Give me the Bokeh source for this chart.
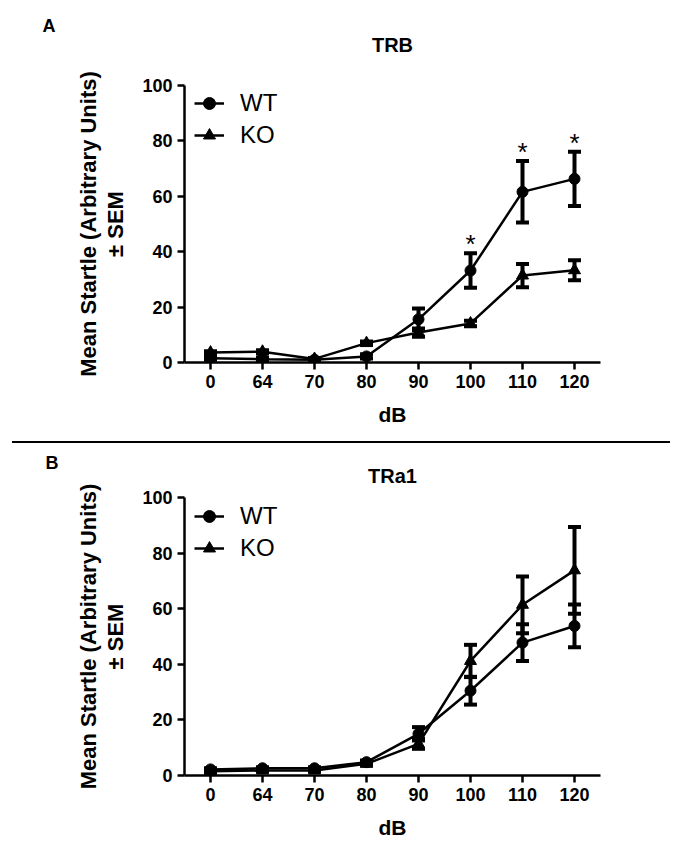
from bokeh.plotting import figure
from bokeh.models import (ColumnDataSource, Whisker, TeeHead, Legend, LegendItem,
                          FixedTicker, Range1d, Div, Title, LinearAxis)
from bokeh.layouts import column
from bokeh.core.properties import value
from bokeh.embed import file_html
from bokeh.resources import INLINE

# ---------------- data ----------------
categories = ["0", "64", "70", "80", "90", "100", "110", "120"]
y_ticks = [0, 20, 40, 60, 80, 100]

trb_wt_mean = [1.5, 1.2, 1.0, 2.2, 15.6, 33.2, 61.6, 66.3]
trb_wt_sem = [0.5, 0.5, 0.4, 0.8, 3.9, 6.2, 11.1, 9.8]
trb_ko_mean = [3.6, 3.9, 1.3, 7.0, 10.8, 14.1, 31.4, 33.3]
trb_ko_sem = [0.5, 0.5, 0.3, 0.6, 1.5, 1.0, 4.2, 3.6]
trb_stars = ["100", "110", "120"]

tra1_wt_mean = [2.2, 2.6, 2.6, 4.8, 15.0, 30.5, 47.8, 53.8]
tra1_wt_sem = [0.4, 0.4, 0.4, 0.6, 2.4, 5.0, 6.6, 7.7]
tra1_ko_mean = [1.5, 1.8, 1.8, 4.2, 11.4, 41.2, 61.4, 73.8]
tra1_ko_sem = [0.3, 0.3, 0.3, 0.6, 1.8, 5.8, 10.2, 15.6]
tra1_stars = []

FONT = "Liberation Sans"


def make_panel(letter, title, wt_mean, wt_sem, ko_mean, ko_sem, stars,
               height, top_border, frame_h, title_standoff, letter_standoff, letter_offset):
    n = len(categories)
    xs = list(range(n))
    p = figure(width=678, height=height, output_backend="svg", toolbar_location=None,
               title=None,
               x_range=Range1d(-0.5, n - 0.5), y_range=Range1d(0, 100),
               min_border_left=184, min_border_right=78, min_border_top=top_border,
               min_border_bottom=height - top_border - frame_h)
    p.outline_line_color = None
    p.grid.visible = False
    p.background_fill_color = "white"
    p.border_fill_color = "white"

    for ax in (p.xaxis[0], p.yaxis[0]):
        ax.axis_line_width = 2.5
        ax.axis_line_color = "black"
        ax.major_tick_line_width = 2.5
        ax.major_tick_line_color = "black"
        ax.major_tick_out = 7
        ax.major_tick_in = 0
        ax.minor_tick_line_color = None
        ax.major_label_text_font = FONT
        ax.major_label_text_font_style = "bold"
        ax.major_label_text_font_size = "18px"
        ax.major_label_text_color = "black"
        ax.major_label_standoff = 5
        ax.axis_label_text_font = FONT
        ax.axis_label_text_font_style = "bold"
        ax.axis_label_text_color = "black"
    p.xaxis[0].ticker = FixedTicker(ticks=xs)
    p.xaxis[0].major_label_overrides = {i: c for i, c in enumerate(categories)}
    p.xaxis[0].axis_label = "dB"
    p.xaxis[0].axis_label_text_font_size = "21px"
    p.xaxis[0].axis_label_standoff = 12
    p.yaxis[0].ticker = FixedTicker(ticks=y_ticks)
    p.yaxis[0].axis_label = "\u00b1 SEM"
    p.yaxis[0].axis_label_text_font_size = "22px"
    p.yaxis[0].axis_label_standoff = 11

    p.add_layout(Title(text="Mean Startle (Arbitrary Units)", align="center",
                       text_font=FONT, text_font_size="22px", text_font_style="bold",
                       text_color="black", standoff=0), "left")

    # panel title as the label of a bare axis above the frame
    top_ax = LinearAxis(ticker=FixedTicker(ticks=[]), axis_line_color=None,
                        major_tick_line_color=None, minor_tick_line_color=None,
                        major_tick_out=0, major_tick_in=0, minor_tick_out=0,
                        major_label_standoff=0, axis_label=title,
                        axis_label_standoff=title_standoff,
                        axis_label_text_font=FONT, axis_label_text_font_size="20px",
                        axis_label_text_font_style="bold", axis_label_text_color="black")
    p.add_layout(top_ax, "above")
    p.add_layout(Title(text=letter, align="left", offset=letter_offset, text_font=FONT,
                       text_font_size="18px", text_font_style="bold", text_color="black",
                       standoff=letter_standoff), "above")

    wt_src = ColumnDataSource(dict(x=xs, y=wt_mean,
                                   lo=[m - s for m, s in zip(wt_mean, wt_sem)],
                                   hi=[m + s for m, s in zip(wt_mean, wt_sem)]))
    ko_src = ColumnDataSource(dict(x=xs, y=ko_mean,
                                   lo=[m - s for m, s in zip(ko_mean, ko_sem)],
                                   hi=[m + s for m, s in zip(ko_mean, ko_sem)]))

    for src in (wt_src, ko_src):
        w = Whisker(source=src, base="x", upper="hi", lower="lo",
                    line_width=4, line_color="black",
                    upper_head=TeeHead(size=13, line_width=4, line_color="black"),
                    lower_head=TeeHead(size=13, line_width=4, line_color="black"))
        p.add_layout(w)

    wt_line = p.line("x", "y", source=wt_src, line_width=2.5, line_color="black")
    ko_line = p.line("x", "y", source=ko_src, line_width=2.5, line_color="black")
    wt_pts = p.scatter("x", "y", source=wt_src, marker="circle", size=11,
                       fill_color="black", line_color="black")
    ko_pts = p.scatter("x", "y", source=ko_src, marker="triangle", size=12,
                       fill_color="black", line_color="black")

    legend = Legend(items=[LegendItem(label="WT", renderers=[wt_line, wt_pts]),
                           LegendItem(label="KO", renderers=[ko_line, ko_pts])],
                    location=(10, 212), padding=0, margin=0, spacing=2,
                    glyph_width=30, glyph_height=30, label_height=30,
                    label_standoff=16, label_text_font=FONT,
                    label_text_font_size="24px", label_text_color="black",
                    border_line_color=None, background_fill_alpha=0)
    p.add_layout(legend)

    if stars:
        sx = [categories.index(c) for c in stars]
        sy = [wt_mean[i] + wt_sem[i] for i in sx]
        p.text(x=sx, y=sy, text=["*"] * len(sx), text_font=value(FONT),
               text_font_size="26px", text_align="center", text_baseline="alphabetic",
               y_offset=-9, text_color="black")
    return p


p1 = make_panel("A", "TRB", trb_wt_mean, trb_wt_sem, trb_ko_mean, trb_ko_sem, trb_stars,
                height=441, top_border=85, frame_h=277,
                title_standoff=30, letter_standoff=-11, letter_offset=-142)
sep = Div(text="", width=658, height=2, margin=(0, 0, 0, 12),
          styles={"background-color": "black"})
p2 = make_panel("B", "TRa1", tra1_wt_mean, tra1_wt_sem, tra1_ko_mean, tra1_ko_sem, tra1_stars,
                height=399, top_border=54, frame_h=278,
                title_standoff=11, letter_standoff=-22, letter_offset=-139)

layout = column(p1, sep, p2, spacing=0)
open("out.html", "w").write(file_html(layout, INLINE))
